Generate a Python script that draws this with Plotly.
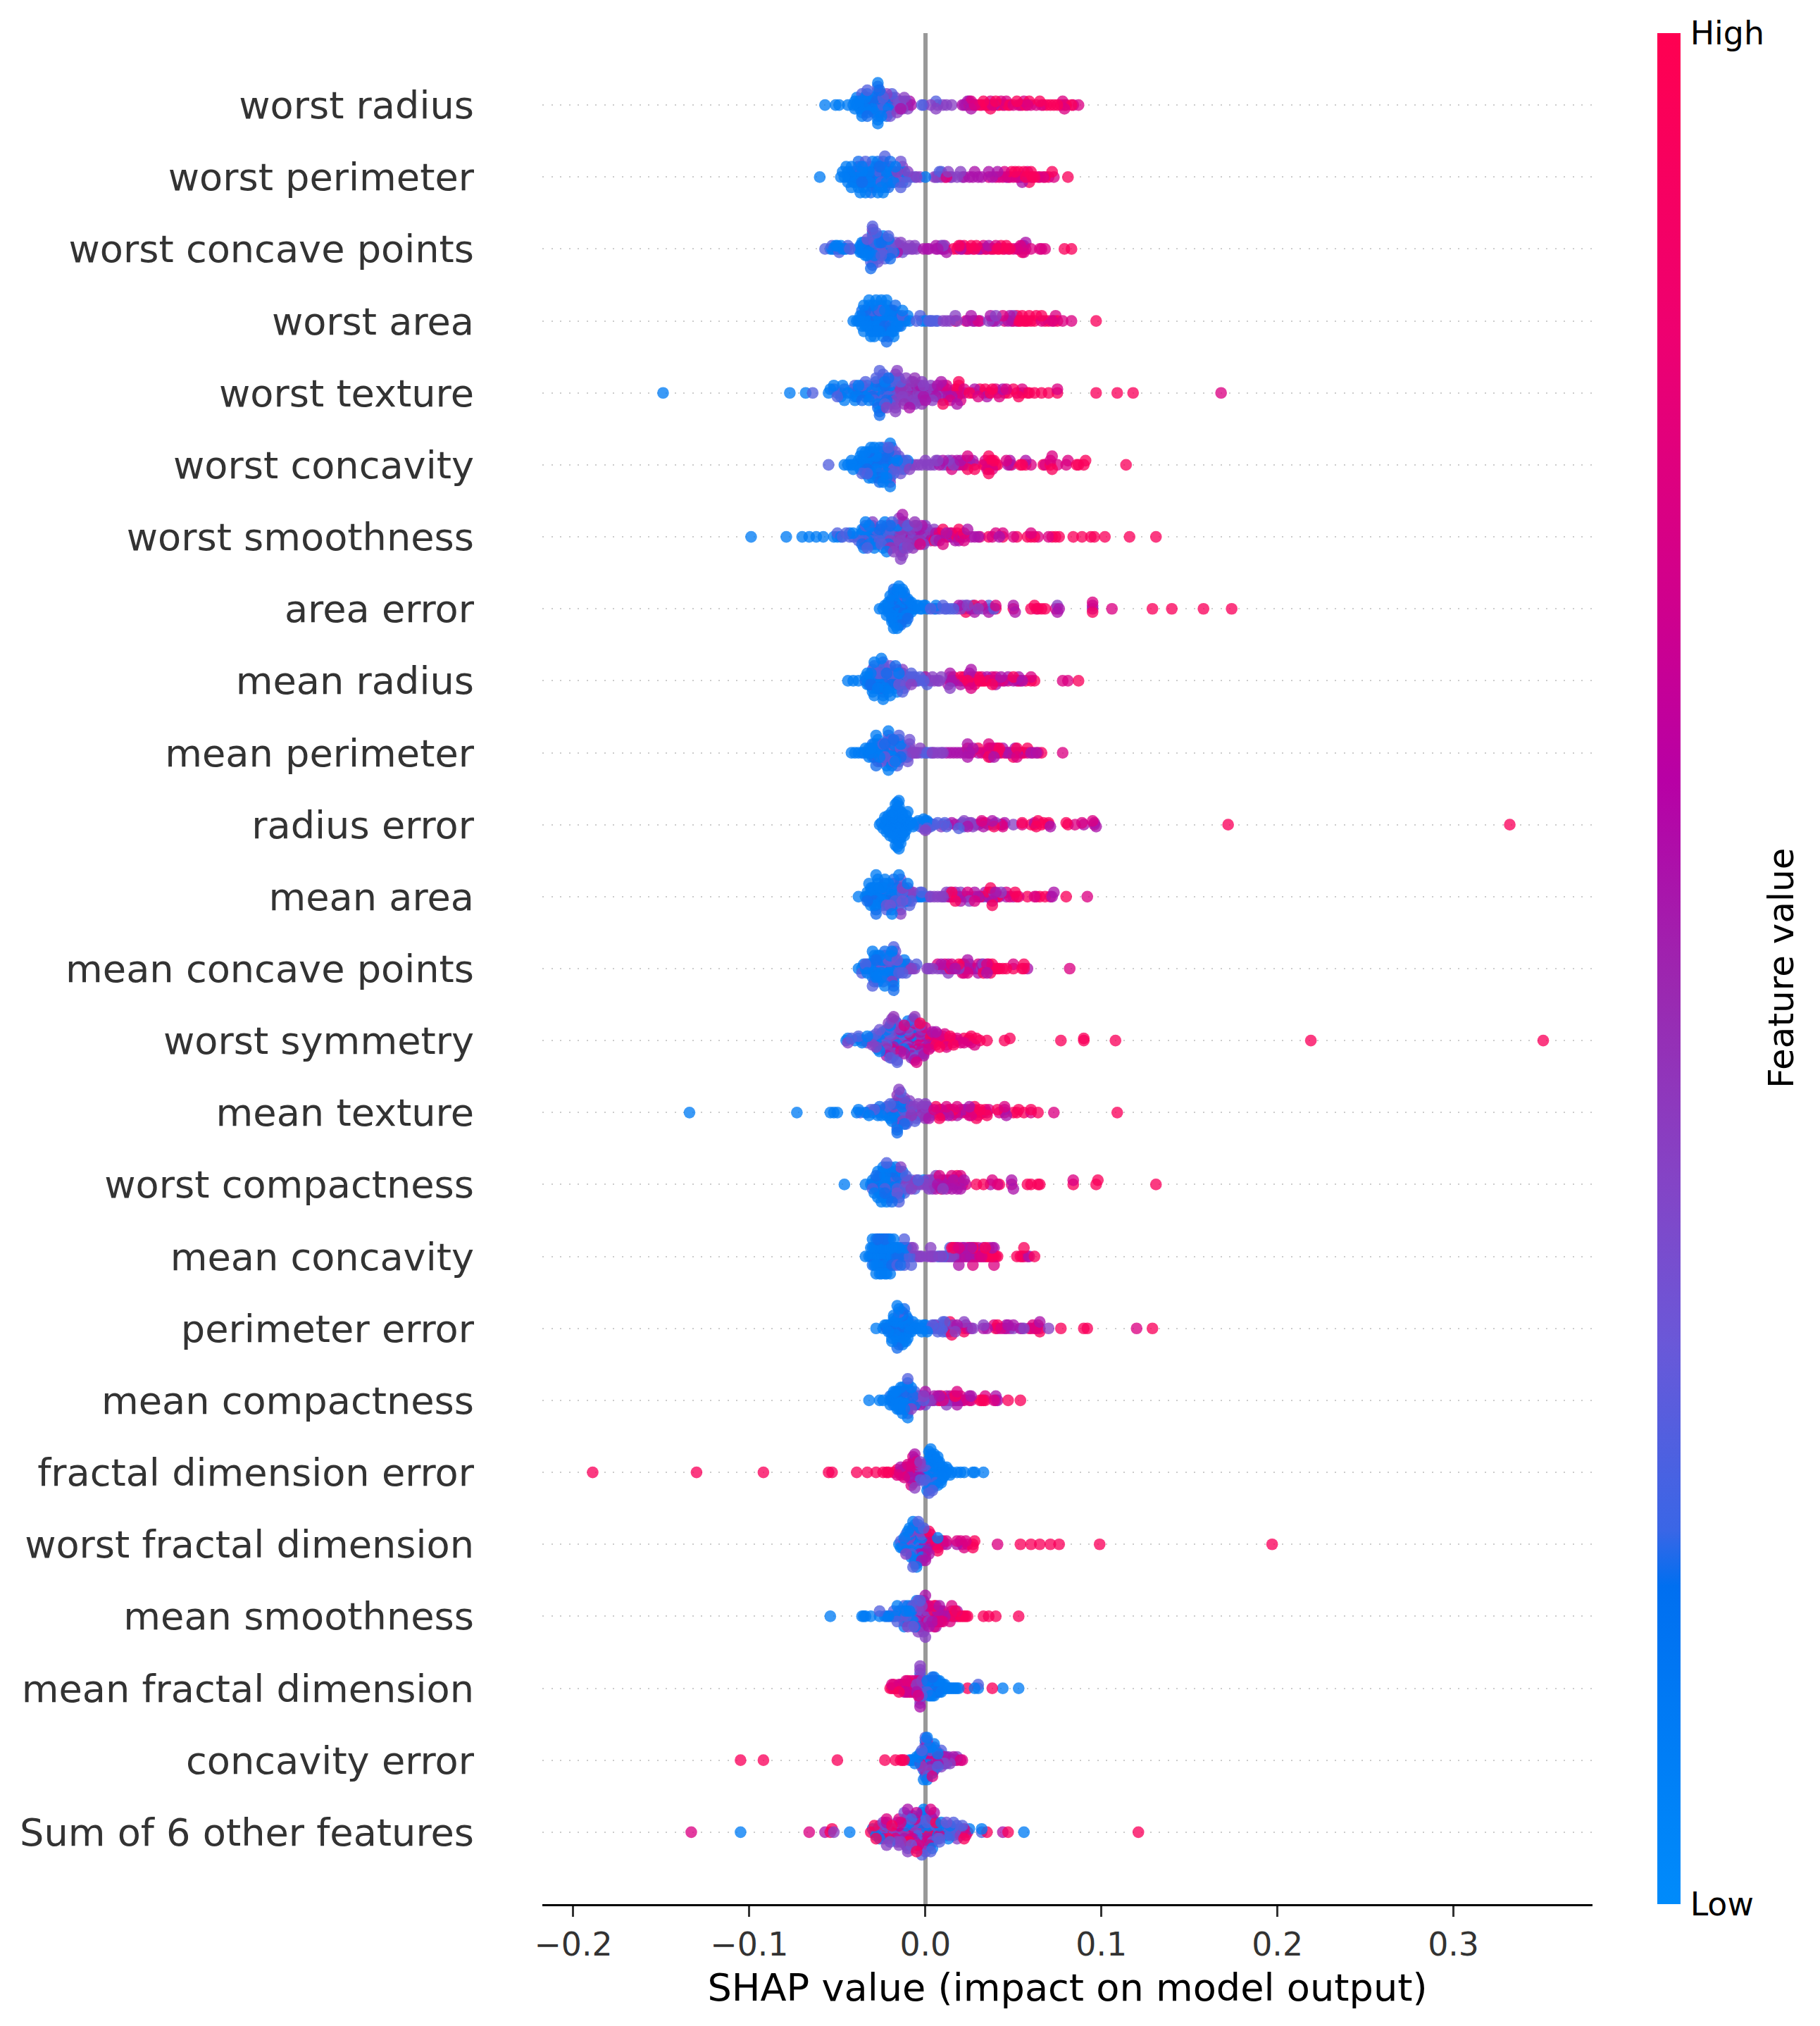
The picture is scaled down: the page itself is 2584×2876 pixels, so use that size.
import numpy as np
import plotly.graph_objects as go

# SHAP values in thousandths, grouped by normalised feature value (0 = low, 1 = high)
worst_radius = {
 .1:[-57,-51,-49,-44,-41,-40,-40,-39,-38,-38,-37,-37,-36,-36,-36,-35,-35,-34,-34,-34,-33,-33,-33,-32,-32,-31,-30,-29,-28,-27,-27,-27,-27,-27,-27,-27,-27,-27,-26,-26,-25,-25,-24,-23,-22,-21],
 .18:[-39,-37,-35,-34,-33,-32,-31,-30,-29,-26,-25,-24,-23,-22,-21,-20,-19],
 .25:[-36,-33,-30,-28,-27,-27,-27,-26,-25,-24,-24,-23,-21,-20,-19,-2,-1,6],
 .32:[-22,-20,-18,-17,-16,-15,-14,-13,-12,-11],
 .4:[-22,-20,-19,-18,-17,-16,-16,-15,-14,-13,-12,-11,-10,3,6,7,10,12,15],
 .55:[-14,-10,-9,-8,21,22,23,24,25,26,27,36,39],
 .75:[26,28,29,32,37,38,42,43,45,46,50,53,54,56,58,60,63,66,78,79,84,87],
 .95:[25,31,33,34,35,37,40,41,44,47,48,52,55,57,59,65,67,69,71,73,75,77,79,80,83]}
worst_perimeter = {
 .1:[-60,-48,-47,-46,-45,-44,-44,-43,-42,-42,-41,-41,-40,-40,-39,-39,-38,-38,-37,-37,-37,-36,-36,-36,-35,-35,-35,-34,-34,-33,-33,-32,-32,-31,-31,-30,-30,-29,-29,-28,-28,-27,-27,-26,-26,-25,-25,-25,-25,-24,-24,-24,-23,-23,-22,-22,-21,-20,-19,-18,-17,-15,-13,-12,0],
 .18:[-44,-42,-40,-38,-36,-34,-33,-32,-31,-30,-29,-28,-27,-26,-24,-23,-22,-21,-20,-19,-18],
 .25:[-38,-34,-30,-28,-26,-25,-23,-21,-20,-19,-14,-11,-8,-6,8,9,7],
 .32:[-17,-16,-15,-14,-13,-12,-11],
 .4:[-16,-15,-14,-13,-10,-5,-3,5,6,9,13,14,15,18,20,21],
 .55:[22,25,27,28,30,32,36,38,41,46,54,55],
 .75:[12,36,40,42,44,45,47,48,50,52,53,58,60,64,67,70,73],
 .95:[11,49,51,53,55,56,57,58,59,60,61,62,65,68,72,81]}
worst_concave_points = {
 .1:[-54,-53,-52,-51,-50,-50,-49,-48,-47,-46,-45,-38,-37,-37,-36,-36,-36,-35,-35,-34,-34,-33,-33,-33,-32,-32,-31,-30,-30,-29,-28,-27,-26,-25,-24,-24,-23,-22,-22,-21,-21,-20,-19,-18,-26],
 .18:[-36,-34,-33,-32,-31,-29,-28,-27,-26,-25,-24,-23,-22,-21,-20],
 .25:[-57,-53,-49,-44,-43,-42,-33,-31,-30,-30,-30,-30,-29,-29,-28,-28,-27,-27,-26,-25,-25,-24,-23,-22,-21,-28,-30,-20,-19],
 .32:[-33,-31,-29,-27,-25,-23,-21,-19,-18,-17,-16,-15,-14,-13],
 .4:[-30,-30,-30,-16,-15,-14,-13,-12,-11,-10,-9,-8,-7,-6,-5,10,10,9],
 .55:[-18,-16,-1,1,2,6,6,7,9,11,11,12,20,21,25,30,31,36,38,55,56,57],
 .75:[20,23,27,33,35,40,45,47,50,52,54,57,55,56,60,65,66,68],
 .95:[16,18,19,22,24,26,28,29,32,34,37,39,41,42,43,44,46,48,53,55,79,83]}
worst_area = {
 .1:[-41,-39,-38,-37,-37,-36,-36,-35,-35,-35,-34,-34,-34,-33,-33,-33,-32,-32,-32,-32,-31,-31,-31,-30,-30,-30,-30,-29,-29,-29,-28,-28,-28,-28,-27,-27,-27,-27,-26,-26,-26,-25,-25,-25,-24,-24,-24,-23,-23,-23,-22,-22,-22,-21,-21,-21,-20,-20,-19,-19,-19,-19,-19,-18,-18,-18,-17,-17,-16,-16,-15,-14,-14,-13,-12,-11,-10,-9,-2,0],
 .18:[-36,-34,-32,-30,-28,-27,-26,-25,-24,-23,-22,-21,-20,-18,-17,-16,-15],
 .25:[-30,-26,-22,-20,-15,-13,-5,-3,2,3,4,6,7],
 .4:[10,12,14,17,18,36,40,41,50],
 .55:[24,26,27,28,31,37,38,39,47,48,49,52],
 .75:[23,30,44,45,50,66,72,73,74,78,83],
 .95:[17,52,53,54,55,56,57,58,59,60,62,63,66,68,70,75,97]}
worst_texture = {
 .1:[-149,-77,-68,-55,-54,-52,-50,-48,-47,-46,-44,-42,-41,-40,-39,-38,-37,-36,-34,-33,-32,-31,-29,-28,-27,-26,-26,-25,-24,-24,-23,-22,-20],
 .18:[-40,-38,-36,-34,-32,-30,-28,-27,-26,-25,-24,-23,-22,-21,-20,-19],
 .25:[-64,-52,-50,-48,-46,-40,-36,-34,-32,-30,-29,-28,-26,-25,-25,-24,-24,-23,-22,-21,-20,-20,-19,-18,-16,-16,-15,-14],
 .4:[-22,-18,-17,-17,-17,-16,-15,-14,-13,-12,-11,-10,-9,-8,-7,-6,-5,-4,-3,-2,-1,0,1,2,3,4,5,8,10,-17,-17],
 .45:[-16,-15,-14,-13,-12,-11,-10,-9,-8,-7,-6,-5,-4,-3,-2],
 .55:[-9,-7,-5,-3,-1,0,2,4,6,7,9,11,12,13,15,18,20,22,28,35,44],
 .75:[5,8,10,12,14,16,17,18,20,22,30,33,36,40,42,46,52,55,75,168],
 .95:[10,14,18,19,19,25,27,31,34,37,38,41,45,47,50,53,55,58,59,62,66,70,75,97,109,118]}
worst_concavity = {
 .1:[-46,-44,-42,-42,-41,-40,-38,-37,-37,-36,-36,-35,-35,-34,-34,-34,-33,-33,-33,-32,-32,-32,-31,-31,-31,-31,-30,-30,-30,-29,-29,-28,-28,-28,-27,-27,-26,-26,-26,-25,-25,-25,-24,-24,-24,-23,-23,-22,-22,-21,-21,-20,-20,-20,-20,-19,-18,-17,-16,-15,-12,-11,-10],
 .18:[-38,-36,-34,-33,-32,-30,-29,-28,-27,-26,-25,-24,-23,-22,-21,-19,-18],
 .25:[-55,-36,-33,-30,-27,-26,-24,-21,-20,-20,-19,-18,-15,-14,-13,-12,-11,-10],
 .32:[-22,-20,-18,-17,-16,-15,-14],
 .4:[-20,-9,-8,-6,-4,-2,0,1,3,5,6,7,10,12,13,16,18,24,25],
 .55:[8,10,14,15,18,19,20,22,23,27,47,48,49,57],
 .75:[15,21,24,28,34,35,38,46,60,68,71,72,75,80,81],
 .95:[24,28,33,34,36,36,36,37,37,38,38,39,40,41,48,54,55,57,67,71,72,86,87,90,91,114]}
worst_smoothness = {
 .1:[-99,-79,-70,-66,-62,-58,-52,-50,-48,-43,-41,-38,-36,-36,-35,-35,-34,-34,-33,-33,-32,-32,-31,-31,-30,-30,-29,-28,-27,-25,-24,-23,-22,-20,-19,-18,-16],
 .18:[-36,-34,-32,-30,-28,-26,-25,-24,-23,-22,-21,-20,-19,-18],
 .25:[-50,-47,-45,-43,-41,-38,-35,-34,-33,-32,-30,-28,-26,-25,-24,-23,-21,-20,-19,-18,-17,-16,-15,-12,-10,-9,-7,-5],
 .4:[-34,-30,-28,-25,-22,-20,-19,-18,-17,-16,-15,-15,-14,-14,-14,-14,-13,-13,-12,-12,-11,-11,-10,-10,-9,-8,-7,-6,-5,-4,-3,-2,-1,0,1,2,4,5,6],
 .45:[-20,-18,-16,-14,-13,-12,-11,-10,-9,-8,-7,-6,-5,-4,-3],
 .55:[-14,-13,-12,-8,-5,-3,-2,0,1,3,6,8,12,15,17,19,22,24,26,28,30,42],
 .75:[-3,-1,2,4,6,8,10,12,15,18,20,22,31,38,40,44,50,60,64,70],
 .95:[5,8,10,13,14,18,19,22,36,44,52,58,60,62,72,74,76,84,89,94,96,102,116,131]}
area_error = {
 .1:[-26,-24,-23,-22,-22,-21,-21,-20,-20,-20,-19,-19,-19,-19,-18,-18,-18,-18,-18,-17,-17,-17,-17,-17,-17,-16,-16,-16,-16,-16,-16,-15,-15,-15,-15,-15,-15,-14,-14,-14,-14,-14,-13,-13,-13,-13,-13,-12,-12,-12,-12,-11,-11,-11,-10,-10,-10,-9,-9,-8,-8,-7,-6,-5,-4,-3,-2,-1,0,1,6,6],
 .18:[-21,-20,-19,-18,-17,-16,-15,-14,-13,-12,-11,-10,-9,-8],
 .25:[-12,3,5,8,10,11,12,14,16,23,27,36,39],
 .4:[18,20,21,24,25,28,30,33,37,75],
 .55:[19,22,26,28,36,50,51,75,76,95,95],
 .75:[32,40,63,74,95,106],
 .95:[23,28,40,50,60,62,64,66,68,95,129,140,158,174]}
mean_radius = {
 .1:[-44,-41,-38,-34,-33,-33,-32,-32,-31,-31,-31,-30,-30,-30,-29,-29,-29,-28,-28,-28,-27,-27,-27,-26,-26,-25,-25,-24,-24,-24,-23,-23,-22,-21,-21,-20,-19,-18,-17,-16,-15,-14,-13],
 .18:[-34,-32,-31,-30,-29,-28,-27,-26,-25,-24,-24,-23,-22,-21,-20,-19,-18,-17,-16,-15,-14],
 .25:[-29,-27,-26,-25,-24,-24,-23,-22,-21,-20,-19,-18,-17,-16,-15,-14,-13,-12,-11,-10,-9,-8,-7,-6,-4,-3,-1,0,1],
 .32:[-30,-28,-26,-25,-23,-22,-21,-20,-19,-18,-17,-16,-15,-14,-13,-12,-11],
 .4:[-13,-12,-11,-10,-9,-8,-7,-6,-5,3,4,5,7,8,9,14,14],
 .55:[0,13,14,15,16,17,20,25,26,28,30,35,40,43,45,47,50,53,55],
 .75:[14,20,22,25,26,28,32,38,40,44,47,52,54,60,78,81],
 .95:[16,20,22,24,25,26,28,30,31,32,33,34,36,38,39,40,41,42,50,53,57,60,62,87]}
mean_perimeter = {
 .1:[-42,-40,-38,-36,-34,-33,-32,-32,-31,-31,-30,-30,-29,-29,-28,-28,-27,-27,-26,-26,-25,-25,-24,-24,-23,-22,-22,-21,-21,-20,-20,-20,-19,-19,-19,-18,-18,-18,-17,-17,-16,-15,-14,-13],
 .18:[-32,-30,-29,-28,-27,-26,-25,-24,-23,-22,-21,-20,-19,-18,-17,-16,-15,-14],
 .25:[-35,-30,-27,-25,-24,-23,-22,-21,-20,-19,-19,-18,-17,-16,-15,-14,-13,-12,-11,-10,-9,-2,0,1,3],
 .32:[-29,-27,-25,-23,-22,-21,-20,-19,-18,-17,-16,-15,-14,-13,-12,-11,-10,-9],
 .4:[-11,-10,-9,-8,-7,-6,-5,-4,-3,4,5,7,9,10],
 .55:[12,14,16,18,20,22,24,24,25,27,30,34,36,37,39,42,44,46,48,50,51,52,60,63],
 .75:[24,26,32,35,36,37,38,40,41,52,54,58,61,64,78],
 .95:[24,30,36,36,37,38,40,41,42,43,45,47,50,52,55,56,58,66]}
radius_error = {
 .1:[-26,-25,-24,-23,-23,-22,-22,-22,-21,-21,-21,-21,-20,-20,-20,-20,-19,-19,-19,-19,-19,-18,-18,-18,-18,-18,-18,-17,-17,-17,-17,-17,-17,-17,-16,-16,-16,-16,-16,-16,-16,-16,-15,-15,-15,-15,-15,-15,-14,-14,-14,-14,-14,-14,-13,-13,-13,-13,-13,-12,-12,-12,-12,-11,-11,-11,-10,-10,-9,-8,-7,-6,-5,-4,-1,0,0,0,1,4],
 .25:[-3,-1,1,2,3,5,7,10,11,12,19,20,21,22],
 .4:[0,0,9,22,23,25,26,27,28,39,40,50],
 .55:[13,15,17,24,30,32,33,38,44,45,62,71,90,96,97],
 .75:[32,36,43,44,55,70,85,89,95,96],
 .95:[34,39,55,60,62,63,64,66,67,70,80,81,172,332]}
mean_area = {
 .1:[-38,-34,-33,-33,-32,-32,-32,-31,-31,-30,-30,-30,-29,-29,-29,-29,-28,-28,-28,-28,-27,-27,-27,-27,-26,-26,-26,-25,-25,-25,-24,-24,-24,-23,-23,-22,-22,-21,-21,-21,-21,-20,-20,-19,-19,-18,-18,-17,-16,-15,-14,-13,-12,-11,-10,-9,-8,-3,-2],
 .18:[-33,-31,-30,-29,-28,-27,-26,-25,-24,-23,-22,-21,-20,-19,-18,-17,-16,-15,-14],
 .25:[-22,-21,-20,-19,-18,-17,-16,-15,-14,-14,-13,-12,-11,-10,-9,-8,-7,-5,-4,-3,-2,0,2],
 .32:[-24,-22,-20,-18,-16,-15,-14,-13,-12,-11,-10],
 .4:[-14,-13,-12,-9,-8,-7,3,5,7,9,10,11,12,14,20,25,33,35,37,39,43],
 .55:[13,15,17,19,20,21,23,24,28,30,32,34,36,38,40,42,46,50,72,73],
 .75:[14,16,18,24,28,38,46,48,53,62,63,71,92],
 .95:[15,17,28,31,36,37,38,39,40,41,51,52,58,65,68,80]}
mean_concave_points = {
 .1:[-38,-36,-35,-34,-33,-33,-32,-32,-31,-30,-30,-29,-29,-28,-28,-28,-27,-27,-27,-27,-27,-27,-26,-26,-26,-26,-25,-25,-25,-24,-24,-24,-23,-23,-22,-22,-21,-20,-20,-20,-19,-19,-19,-19,-18,-18,-18,-17,-16,-15,-14,-12],
 .18:[-33,-31,-30,-29,-28,-26,-25,-24,-23,-22,-21,-20,-19,-18,-17,-16],
 .25:[-36,-34,-30,-29,-28,-26,-24,-22,-21,-20,-19,-18,-18,-17,-16,-15,-13,-12,-11,-10,-5],
 .32:[-30,-27,-25,-23,-21,-20,-19,-18,-17,-16,-15,-14,-13],
 .4:[-19,-13,-11,-10,-9,-8,-7,-6,1,2,4,7,9,13,19,25,31,32,33],
 .55:[9,11,12,13,15,17,21,22,23,24,26,28,30,32,35,36,58],
 .75:[7,11,15,16,21,22,24,25,29,30,33,35,38,50,82],
 .95:[14,19,20,21,22,33,34,35,36,37,38,40,41,42,44,46,50,55,56,56]}
worst_symmetry = {
 .1:[-45,-44,-40,-38,-36,-33,-30,-29,-28,-27,-26,-25,-25,-24,-22,-20,-18,-16,-14,-12,-10,-8,-8,-7],
 .25:[-42,-38,-36,-34,-32,-30,-28,-26,-24,-22,-21,-20,-20,-19,-19,-18,-17,-16,-14,-12,-10,-8,-7,-7,-6,-5,-4],
 .32:[-26,-24,-22,-20,-18,-16,-14,-12,-10,-8,-6,-5,-4],
 .4:[-44,-33,-30,-28,-26,-24,-23,-22,-21,-20,-20,-19,-19,-19,-18,-18,-17,-16,-15,-14,-12,-10,-8,-7,-6,-6,-5,-4,-3,-2,-1,0],
 .45:[-22,-20,-18,-16,-12,-10,-8,-6,-4,-3,-2,-1],
 .55:[-22,-20,-18,-16,-14,-12,-11,-10,-9,-8,-6,-5,-4,-3,-2,-1,0,1,2,3,4,6,7],
 .75:[-19,-16,-14,-12,-10,-9,-8,-6,-5,-4,-3,-2,0,2,3,4,5,6,7,8,9,10,11,12,14,15,16,18,20,22,24,25,26,28],
 .95:[-3,0,3,4,6,8,9,10,12,14,16,18,22,25,26,29,31,35,45,48,77,90,90,108,219,351]}
mean_texture = {
 .1:[-134,-73,-54,-52,-50,-39,-38,-34,-32,-30,-28,-27,-25,-23,-22,-21,-20,-19,-18,-18,-17,-16,-15,-14,-13,-12,-12,-11,-10],
 .18:[-26,-24,-22,-20,-18,-16,-15,-14,-13,-12],
 .25:[-37,-33,-31,-29,-26,-24,-22,-20,-19,-18,-16,-15,-14,-14,-13,-12,-11,-10,-9,-8,-6,-5],
 .4:[-20,-18,-16,-15,-14,-14,-13,-12,-11,-10,-9,-8,-7,-6,-5,-4,-3,-2,-1,0,0,1,2,3],
 .45:[-16,-14,-12,-10,-8,-6,-4,-2,0],
 .55:[-3,-1,0,1,2,4,8,9,13,15,18,22,25,32,35,45,46],
 .75:[5,7,8,10,12,14,15,17,18,20,23,25,26,29,30,36,42,45,60,73],
 .95:[6,8,10,11,13,16,19,21,24,26,27,28,28,29,31,33,34,35,41,45,50,52,53,56,60,64,109]}
worst_compactness = {
 .1:[-46,-34,-31,-30,-29,-28,-28,-27,-27,-26,-26,-26,-25,-25,-25,-24,-24,-24,-23,-23,-23,-22,-22,-22,-22,-21,-21,-21,-20,-20,-20,-19,-19,-18,-18,-17,-17,-16,-16,-15,-15,-15,-14,-14,-13,-12,-1],
 .18:[-30,-28,-27,-26,-25,-24,-23,-22,-21,-20,-19,-18,-17,-16],
 .25:[-30,-28,-25,-23,-22,-20,-18,-16,-15,-14,-13,-12,-11,-9,-8,-6,-4,1],
 .32:[-20,-18,-16,-14,-12,-10],
 .4:[-14,-12,-11,-10,-8,-7,-6,-5,-4,-2,0,1,2,3,4,5,6,10],
 .55:[3,5,6,7,8,9,10,12,13,14,15,16,17,18,20,22,37,49,50],
 .75:[8,10,12,14,15,16,17,19,20,21,23,38,41,49,84],
 .95:[9,18,19,29,33,42,58,60,64,65,84,97,98,131]}
mean_concavity = {
 .1:[-34,-32,-31,-31,-30,-30,-30,-29,-29,-29,-28,-28,-28,-28,-27,-27,-27,-26,-26,-26,-25,-25,-25,-25,-24,-24,-24,-23,-23,-23,-23,-22,-22,-22,-21,-21,-21,-20,-20,-20,-20,-19,-19,-18,-18,-17,-16,-15,-14,-13,-12,-11,-10,-8],
 .18:[-30,-28,-27,-26,-25,-24,-23,-22,-21,-20,-19,-18,-17,-16,-15,-14],
 .25:[-26,-22,-18,-16,-14,-13,-12,-12,-12,-11,-10,-9,-8,-7,7,8,10,12,14],
 .4:[-8,-7,-5,-4,-3,-2,1,3,4,5,9,11,13,15,16],
 .55:[3,14,17,18,19,20,21,22,23,24,25,26,26,27,28,30,33,38,39,59],
 .75:[17,19,21,22,24,27,28,29,30,31,32,33,34,36,39,56,58],
 .95:[15,16,18,19,25,27,34,35,36,37,38,39,40,41,52,54,55,56,62]}
perimeter_error = {
 .1:[-28,-24,-23,-22,-21,-20,-20,-19,-19,-18,-18,-18,-18,-18,-17,-17,-17,-17,-16,-16,-16,-16,-16,-15,-15,-15,-15,-15,-15,-14,-14,-14,-14,-14,-14,-14,-13,-13,-13,-13,-13,-13,-12,-12,-12,-12,-11,-11,-11,-10,-10,-10,-9,-9,-8,-8,-7,-6,-5,-4,-3,-2,-1,-1,0,1,1,2],
 .18:[-22,-20,-19,-18,-17,-16,-15,-14,-13,-12,-11,-10,-9],
 .25:[-15,-10,-7,3,4,5,6,7,8,9,10,10,11,12,12,13],
 .4:[5,7,10,14,16,17,18,22,27,33,50,55,56,70],
 .55:[12,14,16,18,23,26,33,35,41,45,46,47,48,50,54,65],
 .75:[15,24,39,43,46,60,61,63,65,120],
 .95:[14,15,22,22,40,41,59,62,64,65,77,90,92,129]}
mean_compactness = {
 .1:[-32,-26,-24,-20,-20,-19,-19,-18,-18,-18,-17,-17,-17,-17,-16,-16,-16,-16,-15,-15,-15,-15,-14,-14,-14,-14,-14,-13,-13,-13,-13,-13,-12,-12,-12,-12,-11,-11,-11,-10,-10,-10,-10,-10,-10,-10,-9,-9,-9,-8,-8,-7,-6,-5],
 .18:[-20,-18,-16,-15,-14,-13,-12,-11,-9,-8,-7,-6],
 .25:[-13,-11,-10,-10,-8,-6,-5,-4,-3,-1,0],
 .32:[-8,-6,-4,-2,0],
 .4:[-10,-8,-5,-3,-2,-1,0,1,3,5,7,11,12,14,18],
 .55:[-3,0,2,4,5,8,9,12,13,15,16,17,18,20,21,25,26,40,41],
 .75:[7,10,12,14,16,18,19,20,22,25,26,34,39,40],
 .95:[8,9,17,18,31,32,33,34,47,54]}
fractal_dimension_error = {
 .1:[-1,0,0,1,1,1,2,2,2,2,3,3,3,3,3,4,4,4,4,4,4,5,5,5,5,5,5,6,6,6,6,6,6,7,7,7,7,7,8,8,8,8,9,9,9,9,10,10,10,11,11,12,12,13,14,15,18,20,22,27,28,33],
 .25:[-3,-2,-1,-1,0,0,1,1,2,2,3,3,4,4,5,6,8],
 .4:[-8,-7,-6,-5,-4,-3,-3,-2,-2],
 .55:[-14,-12,-11,-10,-9,-8,-7,-6,-6,-5,-5,-4,-4,-3,-3],
 .75:[-16,-15,-14,-13,-12,-12,-11,-10,-10,-9,-9,-8,-8,-8,-7,-7,-6,-6,-5,-5],
 .95:[-189,-130,-92,-55,-53,-39,-33,-28,-24,-22,-21,-18,-16,-14]}
worst_fractal_dimension = {
 .1:[-15,-14,-13,-12,-11,-11,-10,-10,-9,-9,-9,-8,-8,-8,-7,-7,-7,-7,-6,-6,-6,-6,-6,-6,-5,-5,-5,-5,-5,-4,-4,-4,-4,-3,-3,-3,-2,-2,-1,0,7],
 .25:[-14,-12,-11,-10,-9,-8,-7,-6,-5,-4,-3,-2,-1,0],
 .4:[-12,-11,-10,-9,-8,-7,-6,-6,-5,-4,-3,-2,-1,0],
 .55:[-5,-4,-3,-2,-1,-1,0,1,1,2,3,12,18,21],
 .75:[-1,0,1,2,3,5,6,7,8,10,12,18,20,22,23,24,41],
 .95:[2,4,6,7,9,10,27,27,28,54,60,65,71,76,99,197]}
mean_smoothness = {
 .1:[-54,-36,-35,-34,-31,-26,-23,-21,-19,-18,-17,-16,-15,-14,-12,-11,-10,-8,-7,-6,-14,-12,-10,-9,-7,-5],
 .25:[-26,-22,-20,-18,-16,-15,-13,-12,-11,-10,-9,-8,-7,-6,-5,-4,-3],
 .32:[-12,-10,-8,-7,-6,-5,-4,-3,-2],
 .4:[-12,-10,-8,-7,-6,-6,-5,-5,-4,-4,-4,-3,-3,-2,-2,-1,-1,0,0,1,2],
 .55:[-5,-4,-4,-3,-3,-2,-1,0,0,1,1,2,2,3,3,4,5,6,7,8,9,10,11,13,15,17,18],
 .75:[-1,0,1,2,3,4,5,5,6,6,7,7,8,8,9,10,12,14,15],
 .95:[2,4,5,5,6,6,8,9,10,15,16,17,18,19,20,21,22,23,24,33,36,40,53]}
mean_fractal_dimension = {
 .1:[-1,0,1,1,2,2,2,3,3,3,3,4,4,4,4,4,5,5,5,5,5,6,6,6,7,7,7,8,8,8,9,9,9,10,10,11,11,12,13,14,15,16,17,18,19,28,30,44,53],
 .18:[1,2,3,4,5,6,7,8],
 .25:[-3,-3,-2,-1,0,1,2,30],
 .4:[-6,-5,-4,-4,-3,-3,-3,-3,-3,-2,-2,-2,-1],
 .55:[-15,-14,-12,-11,-10,-9,-8,-7,-6,-5,-4,-3,-3,-3,-2],
 .7:[-13,-11,-9,-8,-7,-6,-5,-4],
 .75:[-19,-18,-16,-15,-14,-13,-12,-11,-10,-10,-9,-8,-7,-6,-4,-3,-3],
 .95:[-20,-19,-18,-17,-15,-12,-11,-10,-8,24,38]}
concavity_error = {
 .1:[-9,-8,-7,-6,-5,-5,-4,-4,-3,-3,-2,-2,-2,-1,-1,-1,0,0,0,1,1,1,1,2,2,2,3,3,3,4,4,5,5,6,6,7,8],
 .25:[-3,-2,-1,0,0,1,1,1,2,2,3,4,5,6,7,8,9,10,11,12],
 .4:[-2,-1,0,1,1,2,3,4,6,7,8,9,10,11,12,13,14,16,17,18],
 .55:[-1,0,1,1,2,3,4,5,6,7,8,10,11,13,15,16,1,1],
 .75:[-3,-2,0,1,2,3,3,4,5,6,7,12,18,20,21],
 .95:[-105,-92,-50,-23,-17,-14,-13,-12]}
sum_of_6_other = {
 .1:[-105,-43,-30,-28,-26,-15,-13,-11,-9,-7,-5,-4,-3,-2,-1,0,1,2,3,4,5,6,7,8,9,10,11,12,13,14,15,16,25,32,56],
 .25:[-29,-26,-24,-22,-20,-18,-15,-12,-10,-8,-6,-5,-4,-3,-2,-1,0,1,2,3,4,5,6,7,8,10,11,12,14,16,17,18,19,20,21,32],
 .32:[-20,-16,-12,-8,-4,0,4,8,12,16],
 .4:[-52,-26,-24,-22,-20,-18,-16,-15,-14,-13,-12,-11,-10,-9,-8,-7,-6,-5,-4,-3,-2,-1,0,2,4,14,18,20],
 .55:[-57,-27,-25,-24,-22,-14,-13,-12,-11,-10,-9,-8,-7,-6,-5,-3,-1,1,3,5,21,44],
 .65:[-15,-10,-5,0,5],
 .75:[-133,-66,-22,-20,-18,-17,-15,-14,-13,-10,-8,-6,-4,-2,0,1,2,3,5,6,8,22,23],
 .95:[-54,-53,-31,-29,-28,-27,-24,-23,-21,-19,-16,-12,-10,-9,-5,-1,2,4,6,22,24,35,47,121]}

feature_names = ["worst radius", "worst perimeter", "worst concave points", "worst area", "worst texture",
                 "worst concavity", "worst smoothness", "area error", "mean radius", "mean perimeter",
                 "radius error", "mean area", "mean concave points", "worst symmetry", "mean texture",
                 "worst compactness", "mean concavity", "perimeter error", "mean compactness",
                 "fractal dimension error", "worst fractal dimension", "mean smoothness",
                 "mean fractal dimension", "concavity error", "Sum of 6 other features"]
feature_rows = [worst_radius, worst_perimeter, worst_concave_points, worst_area, worst_texture,
                worst_concavity, worst_smoothness, area_error, mean_radius, mean_perimeter,
                radius_error, mean_area, mean_concave_points, worst_symmetry, mean_texture,
                worst_compactness, mean_concavity, perimeter_error, mean_compactness,
                fractal_dimension_error, worst_fractal_dimension, mean_smoothness,
                mean_fractal_dimension, concavity_error, sum_of_6_other]
x_ticks = [-0.2, -0.1, 0.0, 0.1, 0.2, 0.3]
x_tick_labels = ["\u22120.2", "\u22120.1", "0.0", "0.1", "0.2", "0.3"]

red_blue = [[0, "#008bfb"], [0.17, "#006ff0"], [0.2, "#3a66e6"], [0.3, "#6a58d8"], [0.39, "#8543c5"],
            [0.49, "#9b28b0"], [0.6, "#b800a5"], [0.68, "#cc0090"], [0.84, "#ee0070"], [1, "#ff0051"]]


def swarm_offsets(values):
    """Stack points that share a bin, as a SHAP beeswarm does."""
    n = len(values)
    quant = np.round(100 * (values - values.min()) / (values.max() - values.min() + 1e-8))
    inds = np.argsort(quant, kind="stable")
    ys = np.zeros(n)
    layer, last = 0, -1
    for i in inds:
        if quant[i] != last:
            layer = 0
        ys[i] = np.ceil(layer / 2) * ((layer % 2) * 2 - 1)
        layer += 1
        last = quant[i]
    return ys * 0.9 * (0.4 / np.max(ys + 1))


xs, ys, cs = [], [], []
for idx, row in enumerate(feature_rows):
    pos = len(feature_rows) - 1 - idx
    v = np.array([x for level in row for x in row[level]], dtype=float)
    c = np.array([level for level in row for _ in row[level]], dtype=float)
    order = sorted(range(len(v)), key=lambda i: (i * 37) % len(v))
    v, c = v[order], c[order]
    off = swarm_offsets(v)
    xs.extend(v / 1000)
    ys.extend(pos + off)
    cs.extend(c)

fig = go.Figure(go.Scatter(
    x=xs, y=ys, mode="markers", hoverinfo="skip", showlegend=False,
    marker=dict(size=16.67, color=cs, cmin=0, cmax=1, colorscale=red_blue, opacity=0.77,
                line=dict(width=0),
                colorbar=dict(x=(2353 - 770) / 1491, xanchor="left", xpad=0, y=0.5, yanchor="middle", ypad=0,
                              len=1, lenmode="fraction", thickness=33, thicknessmode="pixels",
                              outlinewidth=0, ticks="outside", ticklen=5, tickcolor="rgba(0,0,0,0)",
                              tickvals=[0, 1], ticktext=["Low", "High"],
                              tickfont=dict(size=45.8, color="#000000")))))

fig.update_layout(
    width=2584, height=2876, autosize=False,
    margin=dict(l=770, r=323, t=47, b=173, pad=0),
    paper_bgcolor="white", plot_bgcolor="white",
    font=dict(family="DejaVu Sans"),
    xaxis=dict(range=[-0.2176, 0.379], tickvals=x_ticks, ticktext=x_tick_labels, showgrid=False,
               zeroline=True, zerolinecolor="#999999", zerolinewidth=6.25,
               showline=True, linecolor="#000000", linewidth=3.3,
               ticks="outside", ticklen=15, tickwidth=3, tickcolor="#333333",
               tickfont=dict(size=45.8, color="#333333"),
               title=dict(text="SHAP value (impact on model output)", standoff=16,
                          font=dict(size=54.17, color="#000000"))),
    yaxis=dict(range=[-1, 25], tickvals=list(range(25)), ticktext=feature_names[::-1],
               showline=False, zeroline=False, ticks="", ticklabelstandoff=96,
               tickfont=dict(size=54.17, color="#333333"),
               showgrid=True, gridcolor="#cccccc", gridwidth=2, griddash="2px,10.5px"),
    annotations=[dict(text="Feature value", textangle=-90, xref="paper", yref="paper",
                      x=(2529 - 770) / 1491, y=0.5, xanchor="center", yanchor="middle", showarrow=False,
                      font=dict(size=50, color="#000000"))])

fig.write_html("out.html", config={"displayModeBar": False},
               post_script="document.body.style.margin='0';document.body.style.overflow='hidden';")
